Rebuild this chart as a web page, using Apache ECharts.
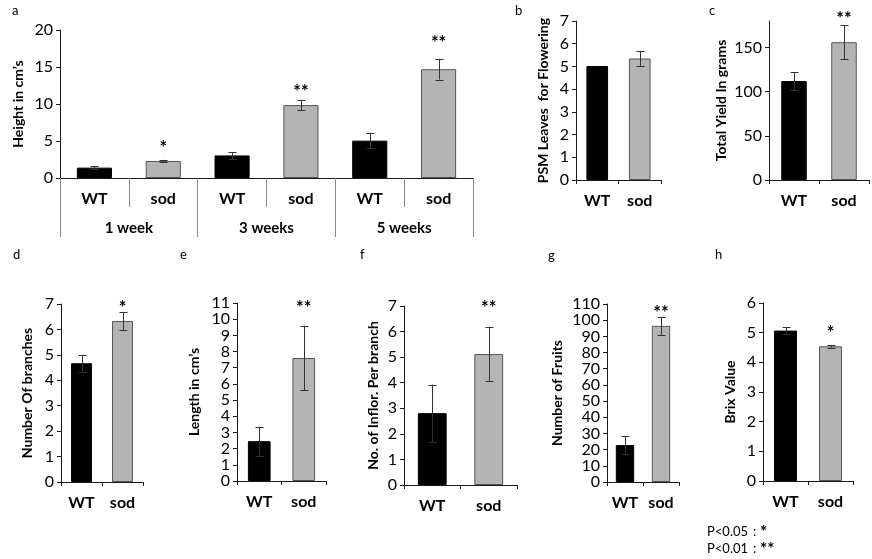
<!DOCTYPE html>
<html><head><meta charset="utf-8">
<script src="https://cdn.jsdelivr.net/npm/echarts@6/dist/echarts.min.js"></script>
<style>html,body{margin:0;padding:0;background:#fff}#c{width:872px;height:559px}</style>
</head><body><div id="c"></div>
<script>
// ---------- data ----------
const genotypes = ['WT', 'sod'];
const heightCats = ['WT', 'sod', 'WT', 'sod', 'WT', 'sod'];
const weekCats = ['1 week', '3 weeks', '5 weeks'];
const heightMean = [1.4, 2.3, 3.05, 9.85, 5.05, 14.7];
const heightErr = [0.2, 0.15, 0.45, 0.7, 1.05, 1.4];
const heightSig = ['', '*', '', '**', '', '**'];
const psmMean = [5.02, 5.35];
const psmErr = [0, 0.33];
const psmSig = ['', ''];
const yieldMean = [112, 156];
const yieldErr = [10, 19.5];
const yieldSig = ['', '**'];
const branchMean = [4.67, 6.33];
const branchErr = [0.33, 0.35];
const branchSig = ['', '*'];
const lengthMean = [2.46, 7.6];
const lengthErr = [0.9, 2.0];
const lengthSig = ['', '**'];
const inflorMean = [2.81, 5.12];
const inflorErr = [1.12, 1.07];
const inflorSig = ['', '**'];
const fruitMean = [22.8, 96.5];
const fruitErr = [5.4, 5.5];
const fruitSig = ['', '**'];
const brixMean = [5.07, 4.54];
const brixErr = [0.11, 0.04];
const brixSig = ['', '*'];
const pLegend = [['P<0.05', '*'], ['P<0.01', '**']];

// ---------- layout / styles ----------
const FONT = 'Lato, "DejaVu Sans", sans-serif';
const panels = [
  {letter:'a', lx:14, ly:12, grid:{left:60, top:30, width:413, height:148}, cats:heightCats, mean:heightMean, err:heightErr, sig:heightSig, sigAt:[0,4.7,0,12.3,0,18.9], max:20, interval:5, name:'Height in cm’s', nameGap:35, weeks:true},
  {letter:'b', lx:517, ly:12, grid:{left:576, top:21, width:85, height:159}, cats:genotypes, mean:psmMean, err:psmErr, sig:psmSig, sigAt:[0,0], max:7, interval:1, name:'PSM Leaves  for Flowering', nameGap:26},
  {letter:'c', lx:711, ly:12, grid:{left:769, top:21, width:100, height:159}, cats:genotypes, mean:yieldMean, err:yieldErr, sig:yieldSig, sigAt:[0,188], max:180, interval:50, name:'Total Yield In grams', nameGap:41, hideMax:true},
  {letter:'d', lx:15, ly:256, grid:{left:61, top:304, width:82, height:178}, cats:genotypes, mean:branchMean, err:branchErr, sig:branchSig, sigAt:[0,7.04], max:7, interval:1, name:'Number Of branches', nameGap:27},
  {letter:'e', lx:182, ly:256, grid:{left:237, top:303, width:89, height:178}, cats:genotypes, mean:lengthMean, err:lengthErr, sig:lengthSig, sigAt:[0,11.0], max:11, interval:1, name:'Length in cm’s', nameGap:36},
  {letter:'f', lx:362, ly:256, grid:{left:404, top:306, width:113, height:179}, cats:genotypes, mean:inflorMean, err:inflorErr, sig:inflorSig, sigAt:[0,7.1], max:7, interval:1, name:'No. of Inflor. Per branch', nameGap:24},
  {letter:'g', lx:550, ly:257, grid:{left:607, top:304, width:72, height:178}, cats:genotypes, mean:fruitMean, err:fruitErr, sig:fruitSig, sigAt:[0,107.6], max:110, interval:10, name:'Number of Fruits', nameGap:43},
  {letter:'h', lx:717, ly:256, grid:{left:763, top:303, width:90, height:178}, cats:genotypes, mean:brixMean, err:brixErr, sig:brixSig, sigAt:[0,5.15], max:6, interval:1, name:'Brix Value', nameGap:26}
];

const blackStyle = {color:'#000', borderColor:'#000', borderWidth:1};
const grayStyle = {color:'#b4b4b4', borderColor:'#555', borderWidth:1};
const axisColor = '#1a1a1a';

const grids = [], xAxes = [], yAxes = [], series = [], graphics = [];

panels.forEach((p, pi) => {
  grids.push(Object.assign({}, p.grid));
  const xi = xAxes.length;
  xAxes.push({
    type:'category', gridIndex:pi, data:p.cats, position:'bottom',
    axisLine:{lineStyle:{color:axisColor, width:1}},
    axisTick:{show:true, length: p.weeks ? 29 : 4, lineStyle:{color: p.weeks ? '#888' : axisColor}},
    axisLabel:{color:'#000', fontFamily:FONT, fontWeight:'bold', fontSize:16, margin:13},
    splitLine:{show:false}
  });
  if (p.weeks) {
    xAxes.push({
      type:'category', gridIndex:pi, data:weekCats, position:'bottom',
      axisLine:{show:false},
      axisTick:{show:true, length:59, lineStyle:{color:'#888'}},
      axisLabel:{color:'#000', fontFamily:FONT, fontWeight:'bold', fontSize:15, margin:43},
      splitLine:{show:false}
    });
  }
  const yi = yAxes.length;
  yAxes.push({
    type:'value', gridIndex:pi, min:0, max:p.max, interval:p.interval,
    name:p.name, nameLocation:'middle', nameGap:p.nameGap, nameRotate:90,
    nameTextStyle:{color:'#000', fontFamily:FONT, fontWeight:'bold', fontSize:14},
    axisLine:{show:true, lineStyle:{color:axisColor, width:1}},
    axisTick:{show:true, length:4, lineStyle:{color:axisColor}},
    axisLabel:{color:'#000', fontFamily:FONT, fontSize:16, margin:7, showMaxLabel: p.hideMax ? false : null},
    splitLine:{show:false}
  });
  series.push({
    type:'bar', xAxisIndex:xi, yAxisIndex:yi, barWidth:'51%', silent:true,
    data:p.mean.map((v, i) => ({value:v, itemStyle: i % 2 ? grayStyle : blackStyle})),
    animation:false
  });
  series.push({
    type:'custom', xAxisIndex:xi, yAxisIndex:yi, silent:true, animation:false, z:5, clip:false,
    encode:{x:0, y:1},
    data:p.mean.map((v, i) => [i, v, p.err[i]]),
    renderItem:(params, api) => {
      const i = api.value(0), m = api.value(1), e = api.value(2);
      const children = [];
      const st = {stroke:'#333', lineWidth:1};
      if (e > 0) {
        const t = api.coord([i, m + e]), b = api.coord([i, m - e]);
        const x = Math.round(t[0]) + 0.5, cw = 4;
        children.push({type:'line', shape:{x1:x, y1:t[1], x2:x, y2:b[1]}, style:st});
        children.push({type:'line', shape:{x1:x - cw, y1:Math.round(t[1]) + 0.5, x2:x + cw, y2:Math.round(t[1]) + 0.5}, style:st});
        children.push({type:'line', shape:{x1:x - cw, y1:Math.round(b[1]) + 0.5, x2:x + cw, y2:Math.round(b[1]) + 0.5}, style:st});
      }
      const s = p.sig[params.dataIndex];
      if (s) {
        const c = api.coord([i, p.sigAt[params.dataIndex]]);
        children.push({type:'text', style:{text:s, x:c[0], y:c[1] + 5, align:'center', verticalAlign:'middle', fill:'#000', font:'bold 18px ' + FONT}});
      }
      return {type:'group', children};
    }
  });
  graphics.push({type:'text', left:p.lx - 2, top:p.ly - 8, style:{text:p.letter, fill:'#000', font:'13px ' + FONT}});
});

pLegend.forEach((row, k) => {
  const top = 525 + k * 17;
  graphics.push({type:'text', left:707, top:top, style:{text:row[0], fill:'#000', font:'13px ' + FONT}});
  graphics.push({type:'text', left:753, top:top, style:{text:':', fill:'#000', font:'13px ' + FONT}});
  graphics.push({type:'text', left:760, top:top - 1, style:{text:row[1], fill:'#000', font:'bold 17px ' + FONT}});
});

const chart = echarts.init(document.getElementById('c'), null, {renderer:'canvas'});
chart.setOption({
  animation:false,
  backgroundColor:'#fff',
  grid:grids, xAxis:xAxes, yAxis:yAxes, series:series, graphic:graphics
});
</script>
</body></html>
